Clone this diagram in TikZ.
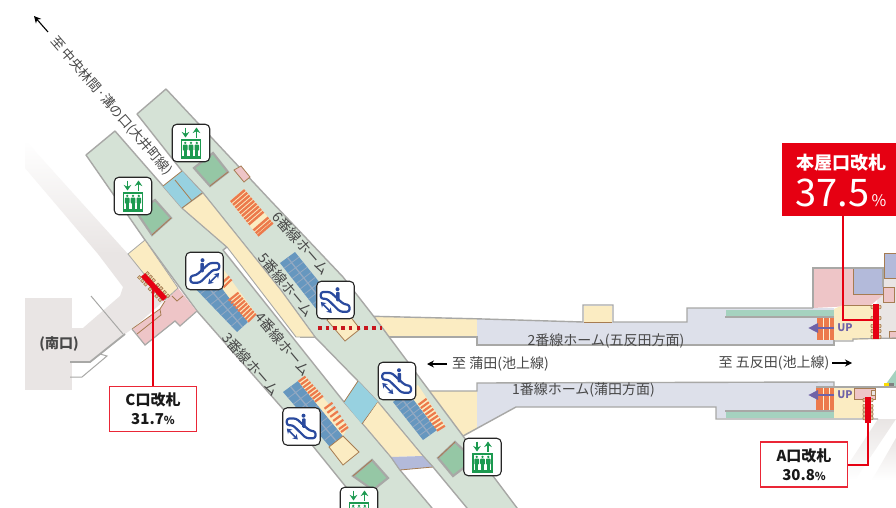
\documentclass[tikz,border=0pt]{standalone}
\usepackage{fontspec}
\setmainfont{Noto Sans CJK JP}
\usetikzlibrary{calc,arrows.meta}
\definecolor{platgreen}{HTML}{D5E2D6}
\definecolor{edgegray}{HTML}{A8A8A6}
\definecolor{yel}{HTML}{FBECC2}
\definecolor{skyb}{HTML}{97D1E0}
\definecolor{boxgreen}{HTML}{95C7A5}
\definecolor{purp}{HTML}{B3BADA}
\definecolor{platgray}{HTML}{DDE0EA}
\definecolor{pinkz}{HTML}{EEC5C7}
\definecolor{orangez}{HTML}{EC7A4C}
\definecolor{tealz}{HTML}{A5D2BF}
\definecolor{brownz}{HTML}{A67C52}
\definecolor{bggray}{HTML}{E9E5E4}
\definecolor{escblue}{HTML}{6697BF}
\definecolor{escline}{HTML}{94A9C2}
\definecolor{redz}{HTML}{E60012}
\definecolor{dotred}{HTML}{C8161D}
\definecolor{iconblue}{HTML}{2A4A9E}
\definecolor{icongreen}{HTML}{1C9A50}
\definecolor{arrowpurp}{HTML}{6F63A8}
\definecolor{txt}{HTML}{484848}
\tikzset{
  plat/.style={fill=platgreen,draw=edgegray,line width=1.4,line join=round},
  iconbox/.style={draw=black!85,fill=white,line width=1.1,rounded corners=4.5,minimum width=37.5,minimum height=37.5,inner sep=0},
  lab/.style={text=txt,inner sep=0,font=\fontsize{14}{16}\selectfont},
  gbox/.style={fill=boxgreen,draw=edgegray,line width=2.2,line join=miter},
  brown/.style={draw=brownz,line width=0.8},
  redline/.style={draw=redz,line width=2},
  redbar/.style={fill=redz,draw=none},
  pctbox/.style={draw=redz!85,fill=white,line width=1.8,inner sep=0,align=center,minimum width=87,minimum height=45,text=black!90,font=\bfseries\fontsize{15}{19}\selectfont},
  ticks/.style={fill=yel!70!brownz,draw=brownz,line width=0.6,rounded corners=0.8}
}
\newcommand\rungs[6]{\foreach \t in {#5}{\draw[#6] ($(#1)!\t!(#4)$) -- ($(#2)!\t!(#3)$);}}
\newcommand\escgrid[4]{%
  \fill[escblue] (#1)--(#2)--(#3)--(#4)--cycle;
  \rungs{#1}{#2}{#3}{#4}{0.11,0.22,0.33,0.44,0.55,0.66,0.77,0.88}{escline,line width=0.8}
  \draw[escline,line width=1.3] ($(#1)!0.5!(#2)$)--($(#4)!0.5!(#3)$);}
\newcommand\elevicon[3]{%
  \node[iconbox] (#1) at (#2,#3) {};
  \begin{scope}[shift={(#2,#3)},icongreen]
    \draw[line width=1.7,-{Stealth[length=5.5,width=7.5]}] (-5.5,-15.5)--(-5.5,-5.5);
    \draw[line width=1.7,-{Stealth[length=5.5,width=7.5]}] (5.5,-5.5)--(5.5,-15.5);
    \draw[line width=1.2] (-9.5,-3)rectangle(9.5,15);
    \fill (-9.5,12.6) rectangle (9.5,15);
    \foreach \u in {-5.8,0,5.8}{
      \fill (\u,-0.1) circle (1.3);
      \fill[rounded corners=0.8] (\u-2.3,1.6) rectangle (\u+2.3,7.5);
      \fill (\u-1.5,6) rectangle (\u+1.5,13);
    }
  \end{scope}}
\newcommand\escicon[4]{%
  \node[iconbox] (#1) at (#2,#3) {};
  \begin{scope}[shift={(#2,#3)},xscale=#4,iconblue]
    \draw[line width=2.2,line join=round,rounded corners=2.4] (14.7,-8)--(5.3,-8)--(-8,4)--(-14,5)--(-14,11.7)--(-4.7,11.7)--(8.7,-1.3)--(14.7,-1.3)--cycle;
    \fill (-2,-10.8) circle (2);
    \fill[rounded corners=1] (-4.2,-8.2)rectangle(-0.6,1.3);
    \draw[line width=1.6,{Stealth[length=4.8,width=6.2]}-{Stealth[length=4.8,width=6.2]}] (14.7,2)--(3.7,13);
  \end{scope}}
\begin{document}
\begin{tikzpicture}[x=1pt,y=-1pt]
\useasboundingbox (0,0) rectangle (896,508);
\clip (0,0) rectangle (896,508);
\fill[white] (0,0) rectangle (896,508);
% south concourse background
\shade[top color=white,bottom color=bggray,draw=none] (25,140)--(128,254)--(98,254)--(25,168)--cycle;
\fill[bggray] (25,298) rectangle (72,390);
\fill[bggray] (98,254)--(128,254)--(165,300)--(132,329)--(125,334)--(90,362)--(72,362)--(72,328)--(83,328)--(120,296)--(123,287)--cycle;
\draw[edgegray,line width=1] (91,296)--(123,334);
\draw[edgegray,line width=1.8] (125,334)--(100,354)--(90,362)--(70,362);
\draw[edgegray,line width=1] (100,354)--(107,356)--(82,377)--(70,377);
% right fading bands
\shade[top color=bggray,bottom color=white,draw=none] (878,419)--(896,419)--(855,480)--(838,480)--cycle;
\shade[top color=bggray,bottom color=white,draw=none] (896,438)--(896,480)--(872,480)--cycle;
\fill[tealz] (886,384)--(896,370)--(896,386)--cycle;
\fill[yellow!80!orange] (884,383) rectangle (889,386);
\fill[gray] (889,383) rectangle (894,386);
% right concourse
\fill[bggray] (876,305)--(884,278)--(896,278)--(896,338)--(876,338)--cycle;
\fill[pinkz,draw=brownz,line width=0.7] (889,331) rectangle (898,338);
\fill[purp,draw=brownz,line width=1] (884,253) rectangle (899,278);
% horizontal yellow passage and platform 2
\fill[yel] (340,316)--(477,319)--(477,337)--(300,337)--cycle;
\fill[platgray] (477,319)--(583,322)--(687,322)--(687,308)--(834,308)--(834,345)--(477,345)--cycle;
\draw[edgegray,line width=1.4] (340,315.5)--(477,318.8)--(583,322)--(583,305)--(613,305)--(613,322)--(687,322)--(687,308)--(813,308);
\draw[edgegray,line width=1.4] (300,337)--(477,337)--(477,345)--(834,345)--(834,340);
\fill[yel] (583.7,305.7) rectangle (612.3,322);
\draw[brown] (584,322)--(612,322);
% pink + purple upper block
\fill[pinkz] (813,268)--(883,268)--(883,295)--(871,305)--(813,308)--cycle;
\draw[edgegray,line width=1.6] (813,308)--(813,268)--(884,268);
\fill[purp] (853,268.8) rectangle (883,294);
\draw[brownz,line width=1] (853,268.8)--(853,294)--(883,294);
\fill[pinkz,draw=brownz,line width=0.8] (883,287) rectangle (894,302);
\draw[edgegray,line width=1.4] (883,268)--(883,287);
% yellow block of platform 2
\fill[yel] (834,309)--(843,305)--(873,305)--(873,339)--(853,340)--(834,340)--cycle;
\draw[brownz,line width=0.8] (843,305)--(873,305);
\draw[edgegray,line width=1.2] (834,341)--(853,341)--(853,339)--(896,338);
\fill[tealz] (726,310) rectangle (834,316.5);
\draw[edgegray,line width=1.2] (725,317)--(834,317);
\fill[orangez] (817,318) rectangle (834,340);
\draw[yel!70!white,line width=1] (823,318)--(823,340) (829,318)--(829,340);
% platform 1
\fill[yel] (425,391)--(477,391)--(477,429)--(463,437)--(440,420)--cycle;
\fill[platgray] (477,383)--(834,382)--(834,418)--(716,418)--(716,407)--(516,407)--(477,429)--cycle;
\draw[edgegray,line width=1.4] (425,391)--(477,391)--(477,383)--(834,382)--(834,387);
\draw[edgegray,line width=1.4] (463,436)--(516,407)--(716,407)--(716,419)--(878,419);
\fill[yel] (834,388) rectangle (864,418);
\draw[edgegray,line width=1.4] (816,387)--(896,387);
\fill[tealz] (726,412) rectangle (834,418);
\draw[edgegray,line width=1.2] (725,411)--(834,411);
\fill[orangez] (816,388) rectangle (834,410);
\draw[yel!70!white,line width=1] (823,388)--(823,410) (829,388)--(829,410);
\fill[pinkz,draw=brownz,line width=0.8] (854,388) rectangle (875,399);
\fill[bggray,draw=brownz,line width=0.7] (871,390) rectangle (875,395);
% purple arrows and UP
\coordinate (upa2) at (834,328); \coordinate (upt2) at (808,328);
\coordinate (upa1) at (834,395); \coordinate (upt1) at (808,395);
\draw[arrowpurp,line width=2.6,-{Triangle[length=10,width=9]}] (upa2)--(upt2);
\draw[arrowpurp,line width=2.6,-{Triangle[length=10,width=9]}] (upa1)--(upt1);
\node[inner sep=0,text=arrowpurp,font=\bfseries\fontsize{10.5}{12}\selectfont] (up2) at (845,328) {UP};
\node[inner sep=0,text=arrowpurp,font=\bfseries\fontsize{10.5}{12}\selectfont] (up1) at (845,395) {UP};
% diagonal platforms
\draw[plat] (86,155)--(115,131)--(163,186)--(182,208)--(227,247)--(223,250)--(344,402)--(363,424)--(391,457)--(400,470)--(432,508)--(433,520)--(363,520)--(363,508)--(283,409)--(197,311)--(145,240)--cycle;
\draw[plat] (137,114)--(166,89)--(270,200)--(343,277)--(375,318)--(463,436)--(517,508)--(530,525)--(480,525)--(467,508)--(433,467)--(423,456)--(378,402)--(358,381)--(315,337)--(280,289)--(203,193)--(182,171)--cycle;
% yellow band, blue boxes
\fill[yel,draw=edgegray,line width=0.9] (182,208)--(203,193)--(280,289)--(315,337)--(296,337)--(227,247)--cycle;
\fill[skyb] (163,186)--(182,171)--(202,193)--(182,208)--cycle;
\draw[brown] (163,186)--(182,171) (182,208)--(202,193) (175,180)--(192,201);
\fill[skyb] (358,381)--(378,402)--(362,424)--(344,402)--cycle;
\draw[brown] (358,381)--(344,402) (378,402)--(362,424);
\fill[yel] (378,402)--(363,424)--(391,457)--(423,456)--cycle;
\fill[purp] (391,457)--(423,456)--(433,467)--(400,470)--cycle;
\draw[brown] (400,470)--(433,467);
\draw[edgegray,line width=0.9] (378,402)--(423,456)--(433,467);
\draw[edgegray,line width=0.9] (363,424)--(391,457) (400,470)--(391,457);
% green boxes
\draw[gbox] (137,213)--(155,200)--(171,218)--(152,235)--cycle;
\draw[gbox] (194,168)--(213,153)--(228,172)--(210,186)--cycle;
\draw[gbox] (353,476)--(372,460)--(388,478)--(373,490)--cycle;
\draw[gbox] (438,458)--(455,442)--(474,460)--(453,476)--cycle;
\draw[brown] (152,235)--(171,218) (210,186)--(228,172);
\draw[brown] (353,476)--(372,460) (438,458)--(455,442);
\fill[pinkz,draw=brownz,line width=0.8] (234,170)--(241,166)--(250,177)--(244,182)--cycle;
% stairs 6
\fill[yel] (230,201)--(244,189)--(273,223)--(258,236)--cycle;
\rungs{230,201}{244,189}{273,223}{258,236}{0.03,0.11,0.19,0.27,0.35,0.43,0.51,0.59,0.67,0.84,0.92,0.99}{orangez,line width=2.5}
% escalator 5
\escgrid{280,263}{295,252}{332,298}{317,310}
\fill[yel,draw=brownz,line width=0.8] (327,320)--(342,306)--(360,329)--(345,341)--cycle;
% block 4
\escgrid{190,283}{208,270}{248,322}{237,332}
\fill[yel] (208,270)--(218,262)--(256,314)--(248,322)--cycle;
\rungs{228,300}{238,292}{256,314}{248,322}{0.03,0.15,0.27,0.39,0.51,0.63,0.75,0.87,0.99}{orangez,line width=2.2}
\rungs{213,276}{223,268}{232,280}{224,288}{0.7,0.95}{orangez,line width=2.2}
% block 3
\escgrid{283,392}{298,381}{343,436}{330,447}
\fill[yel] (298,381)--(305,376)--(348,427)--(343,436)--cycle;
\rungs{298,381}{305,376}{324,397}{316,403}{0.03,0.16,0.29,0.42,0.55,0.68,0.81,0.94}{orangez,line width=2.2}
\rungs{324,408}{332,402}{348,427}{341,432}{0.03,0.2,0.37,0.54,0.71,0.88,1}{orangez,line width=2.2}
\fill[yel,draw=brownz,line width=0.8] (329,447)--(343,436)--(359,452)--(343,465)--cycle;
% block 1
\escgrid{393,402}{407,391}{437,430}{423,440}
\fill[yel] (407,391)--(418,385)--(445,426)--(437,430)--cycle;
\rungs{418,404}{426,398}{445,426}{437,431}{0.03,0.15,0.27,0.39,0.51,0.63,0.75,0.87,0.99}{orangez,line width=2.2}
% red dotted line
\coordinate (dotl) at (318,328); \coordinate (dotr) at (382,328);
\draw[dotred,line width=3.5,dash pattern=on 3.6pt off 4.1pt] (dotl)--(dotr);
% C gate
\fill[pinkz] (133,329)--(160,309)--(165,301)--(178,288)--(196.5,311)--(180,326)--(175,321)--(145,345)--cycle;
\draw[brown] (132,329)--(160,309)--(165,301) (137,334)--(161,315)--(160,309) (172,296)--(177,301)--(183,296);
\draw[edgegray,line width=1.2] (132,329)--(145,345)--(175,321)--(180,326)--(197,311);
\fill[yel,draw=edgegray,line width=0.8] (128,254)--(145,240)--(178,288)--(165,300)--cycle;
\foreach \p in {0.02,0.16,0.3,0.5,0.64,0.8,0.95}{
  \fill[ticks] ($(143,275)!\p!(165,299)+(-4,2)$) circle (1.9);
  \fill[ticks] ($(143,275)!\p!(165,299)+(4,-2)$) circle (1.9);
}
\coordinate (cbar) at (153,288);
\draw[redz,line width=5.5] (143,275)--(165,299);
% right gates ticks
\foreach \yy in {307,318,326,331,337}{\fill[ticks] (871,\yy-1.7) rectangle (881,\yy+1.7);}
\fill[redbar] (873,304) rectangle (879,339);
\foreach \yy in {400,406,410,414,418}{\fill[ticks] (863,\yy-1.7) rectangle (873,\yy+1.7);}
\fill[redbar] (865,397) rectangle (870.5,423);
% texts
\coordinate (ntip) at (34,16); \coordinate (ntail) at (48,32);
\draw[black,line width=1.1,-{Stealth[length=7,width=7]}] (ntail)--(ntip);
\node[lab,rotate=-49,font=\fontsize{13.2}{16}\selectfont] (tline) at (111.5,106) {至 中央林間·溝の口(大井町線)};
\node[lab,rotate=-49] (t6) at (301,243) {6番線ホーム};
\node[lab,rotate=-50] (t5) at (286,285) {5番線ホーム};
\node[lab,rotate=-50] (t4) at (283,344) {4番線ホーム};
\node[lab,rotate=-49] (t3) at (251,364) {3番線ホーム};
\node[lab] (t2) at (606,341) {2番線ホーム(五反田方面)};
\node[lab] (t1) at (583.5,390) {1番線ホーム(蒲田方面)};
\node[lab] (tkama) at (500.5,364) {至 蒲田(池上線)};
\node[lab] (tgota) at (774,363) {至 五反田(池上線)};
\coordinate (kt) at (427,364); \coordinate (ks) at (447,364);
\coordinate (gt) at (852,363); \coordinate (gs) at (832,363);
\draw[black,line width=1.1,-{Stealth[length=7,width=7]}] (ks)--(kt);
\draw[black,line width=1.1,-{Stealth[length=7,width=7]}] (gs)--(gt);
\node[lab,font=\bfseries\fontsize{14}{16}\selectfont] (south) at (59,344) {(南口)};
% icons
\elevicon{e1}{191}{143}
\elevicon{e2}{133}{196}
\elevicon{e3}{482.5}{457}
\elevicon{e4}{359}{506}
\escicon{s1}{204.5}{271}{1}
\escicon{s2}{335.5}{300}{-1}
\escicon{s3}{397}{381}{-1}
\escicon{s4}{301.5}{426.5}{-1}
% callouts
\node[pctbox] (cbox) at (153,409) {C口改札\\31.7{\fontsize{11}{13}\selectfont\%}};
\draw[redline] (cbox.north)--(cbar);
\node[pctbox] (abox) at (804,464.5) {A口改札\\30.8{\fontsize{11}{13}\selectfont\%}};
\coordinate (abar) at (868,422);
\draw[redline] (abox.east)-|(abar);
\node[fill=redz,minimum width=114,minimum height=73,inner sep=0] (mbox) at (839,179.5) {};
\node[inner sep=0,text=white,font=\bfseries\fontsize{18}{20}\selectfont] (mt) at (841.5,163) {本屋口改札};
\node[inner sep=0,text=white,font=\fontsize{38}{40}\selectfont] (mn) at (832.5,193) {37.5};
\node[inner sep=0,text=white,font=\fontsize{16}{18}\selectfont] (mp) at (879,200.5) {\%};
\coordinate (mbar) at (873,320);
\coordinate (mcorner) at (843,320);
\draw[redline] (843,216)--(mcorner)--(mbar);
\end{tikzpicture}
\end{document}
